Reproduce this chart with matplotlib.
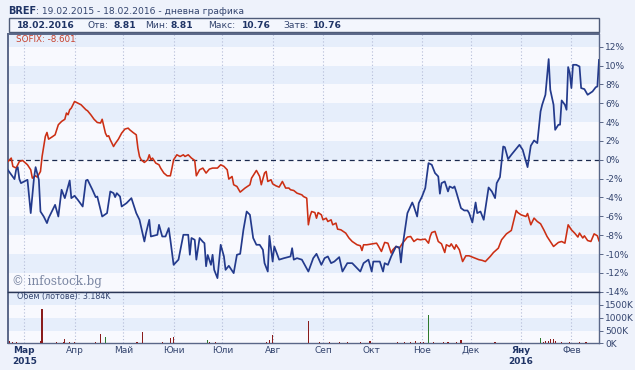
import numpy as np
import matplotlib
matplotlib.use('Agg')
import matplotlib.pyplot as plt
import matplotlib.patches as mpatches
import pandas as pd

# ---------------- data ----------------
start = pd.Timestamp('2015-02-19')
end = pd.Timestamp('2016-02-18')

bref_days = [0, 4, 5, 6, 7, 8, 12, 14, 16, 17, 19, 20, 22, 24, 25, 29, 31, 33, 35, 38,
             39, 41, 43, 46, 48, 49, 52, 54, 55, 58, 61, 63, 65, 66, 67, 69, 70, 73, 76, 79,
             81, 84, 85, 87, 88, 92, 93, 95, 97, 99, 100, 102, 105, 108, 111, 112, 113, 115, 116, 118,
             120, 121, 122, 123, 125, 126, 127, 129, 131, 133, 134, 136, 139, 141, 143, 145, 147, 149, 151, 153,
             155, 157, 158, 160, 161, 163, 164, 167, 170, 174, 175, 176, 178, 181, 185, 188, 190, 193, 195, 197,
             199, 201, 204, 206, 209, 212, 214, 217, 219, 222, 224, 225, 229, 231, 232, 234, 236, 239, 241, 242,
             243, 246, 249, 250, 252, 253, 255, 257, 259, 261, 263, 265, 266, 267, 269, 271, 272, 274, 275, 276,
             279, 281, 283, 284, 286, 288, 289, 291, 293, 296, 298, 300, 301, 303, 305, 306, 308, 310, 315, 317,
             319, 320, 322, 324, 326, 328, 329, 331, 332, 333, 334, 336, 337, 339, 340, 341, 343, 344, 345, 346,
             347, 348, 350, 352, 353, 355, 357, 360, 362, 363, 364]
bref_pct = [-1.1, -2.05, -1.06, -0.78, -2.05, -2.48, -2.12, -5.66, -1.95, -0.78, -2.12, -5.49, -6.02, -6.72, -6.19, -4.78, -6.02, -3.18, -4.07, -2.2,
            -4.07, -3.82, -4.25, -4.96, -2.2, -2.12, -3.18, -3.96, -3.9, -6.02, -5.66, -3.36, -3.54, -3.96, -3.54, -3.9, -4.96, -4.6, -4.07, -5.66,
            -6.37, -8.67, -7.78, -6.37, -8.14, -7.96, -6.9, -8.14, -8.14, -7.25, -8.49, -11.15, -10.6, -7.96, -7.96, -10.08, -8.3, -8.49, -10.6, -8.3,
            -8.7, -8.85, -11.3, -10.1, -11.15, -10.08, -11.68, -12.56, -9.02, -10.26, -11.68, -11.25, -12.03, -10.08, -9.98, -7.43, -5.49, -5.84, -8.3, -9.02,
            -9.02, -9.55, -10.97, -11.86, -8.07, -10.8, -9.2, -10.6, -10.44, -10.26, -9.38, -10.6, -10.44, -10.6, -11.86, -10.44, -9.98, -11.15, -10.44, -10.26,
            -10.97, -10.8, -10.33, -11.86, -10.97, -10.97, -11.33, -11.86, -10.97, -10.6, -11.86, -10.8, -10.8, -11.86, -10.97, -11.15, -10.26, -9.2, -9.3, -10.9,
            -9.2, -5.66, -4.53, -4.96, -6.02, -4.6, -3.9, -3.0, -0.35, -0.53, -1.41, -1.77, -3.6, -2.48, -2.3, -3.36, -2.83, -3.0, -2.83, -3.36,
            -5.13, -5.38, -5.38, -5.66, -6.65, -4.53, -5.66, -5.49, -6.37, -2.94, -3.36, -4.07, -2.48, -1.84, 1.41, 1.34, 0.07, 0.53, 1.59, 1.06,
            -0.18, -0.78, 1.49, 2.05, 1.77, 5.13, 5.84, 6.9, 8.84, 10.69, 7.43, 5.84, 3.18, 3.72, 3.72, 6.3, 5.84, 5.31, 9.84, 9.2,
            7.61, 10.08, 10.08, 9.9, 7.61, 7.5, 6.9, 7.25, 7.7, 7.78, 10.6]

sofix_days = [0, 2, 3, 5, 7, 9, 12, 14, 15, 17, 18, 20, 21, 23, 24, 25, 27, 29, 31, 33,
              35, 36, 37, 38, 39, 41, 43, 45, 47, 48, 49, 51, 53, 55, 57, 58, 60, 61, 62, 63,
              65, 66, 68, 70, 72, 74, 75, 77, 79, 80, 81, 82, 84, 86, 87, 88, 89, 91, 93, 94,
              96, 98, 100, 101, 102, 104, 106, 108, 109, 111, 113, 115, 116, 118, 120, 122, 124, 126, 129, 131,
              133, 135, 136, 138, 139, 141, 143, 146, 149, 150, 153, 155, 156, 158, 159, 160, 162, 163, 165, 167,
              169, 171, 173, 174, 176, 178, 179, 181, 182, 184, 185, 186, 187, 189, 190, 191, 193, 194, 196, 197,
              199, 200, 202, 203, 205, 208, 210, 212, 215, 217, 218, 219, 221, 225, 227, 228, 230, 232, 234, 236,
              237, 239, 241, 243, 246, 248, 250, 252, 254, 257, 259, 260, 261, 263, 265, 267, 269, 270, 272, 273,
              275, 276, 278, 280, 282, 284, 287, 290, 292, 294, 297, 299, 302, 304, 307, 310, 313, 314, 316, 319,
              320, 322, 324, 326, 328, 330, 332, 334, 336, 339, 341, 343, 345, 347, 349, 351, 352, 354, 355, 357,
              359, 361, 363, 364]
sofix_pct = [-0.17, 0.18, -0.7, -0.88, -0.18, -0.07, -0.53, -1.06, -1.95, -1.7, -1.84, -1.24, 0.35, 2.48, 2.9, 2.19, 2.41, 2.65, 3.72, 4.07,
             4.3, 4.96, 4.78, 5.31, 5.49, 6.19, 6.02, 5.84, 5.49, 5.31, 5.2, 4.78, 4.3, 3.96, 3.9, 4.3, 2.83, 2.48, 2.55, 2.12,
             1.41, 1.7, 2.19, 2.83, 3.26, 3.36, 3.18, 2.9, 2.65, 1.24, 0.35, 0.0, -0.28, 0.0, 0.53, 0.0, 0.18, -0.35, -0.53, -0.88,
             -1.41, -1.7, -1.7, -0.88, 0.0, 0.53, 0.35, 0.53, 0.35, 0.53, 0.18, -0.07, -1.7, -1.06, -0.88, -1.41, -0.99, -0.88, -0.88, -0.53,
             -0.7, -1.06, -2.05, -1.77, -2.65, -2.83, -3.43, -3.0, -2.65, -1.95, -1.13, -1.77, -2.65, -1.41, -1.24, -2.3, -2.12, -2.55, -2.76, -2.9,
             -2.3, -3.0, -3.0, -3.18, -3.26, -3.54, -3.6, -3.72, -3.9, -4.07, -6.9, -6.0, -5.49, -5.6, -6.2, -5.6, -5.84, -6.37, -6.2, -6.55,
             -6.37, -6.9, -6.72, -7.36, -7.43, -7.78, -8.3, -8.67, -9.02, -9.12, -9.63, -9.02, -9.02, -8.9, -8.85, -9.12, -9.73, -8.77, -8.85, -9.9,
             -9.55, -9.2, -9.38, -8.85, -8.2, -8.14, -8.67, -8.42, -8.49, -8.42, -8.85, -8.14, -7.72, -7.6, -8.67, -8.92, -9.84, -9.02, -9.2, -8.92,
             -9.48, -9.02, -9.55, -10.8, -10.19, -10.19, -10.4, -10.6, -10.67, -10.8, -10.26, -9.84, -9.38, -8.49, -7.86, -7.5, -5.38, -5.6, -5.84, -6.02,
             -5.7, -6.9, -6.19, -6.55, -6.79, -7.43, -8.14, -8.67, -9.2, -8.77, -8.67, -8.85, -6.9, -7.43, -7.78, -8.2, -7.78, -8.3, -8.07, -8.57,
             -8.67, -7.86, -8.07, -8.6]

vol_days = [1, 3, 5, 9, 20, 21, 30, 34, 35, 38, 41, 49, 54, 57, 60, 70, 79, 80, 83, 86,
            95, 100, 102, 112, 123, 124, 128, 135, 159, 161, 163, 172, 185, 192, 198, 204, 209, 217, 223, 231,
            240, 244, 248, 251, 254, 256, 259, 262, 268, 271, 276, 279, 284, 300, 303, 319, 323, 328, 330, 331,
            333, 334, 336, 337, 341, 346, 352, 356]
vol_k = [90, 60, 40, 30, 80, 1340, 40, 50, 156, 40, 40, 30, 40, 350, 230, 30, 50, 50, 450, 30,
         70, 190, 260, 20, 110, 40, 40, 30, 60, 130, 325, 30, 870, 60, 40, 40, 50, 40, 80, 30,
         50, 40, 50, 80, 50, 60, 1105, 40, 60, 50, 50, 110, 30, 40, 30, 30, 30, 220, 60, 80,
         100, 180, 180, 80, 50, 50, 60, 50]
vol_dir = ['d', 'd', 'd', 'd', 'd', 'd', 'd', 'd', 'd', 'd', 'd', 'd', 'd', 'd', 'u', 'd', 'd', 'd', 'd', 'd',
           'd', 'd', 'd', 'd', 'u', 'd', 'd', 'd', 'd', 'd', 'd', 'd', 'd', 'd', 'd', 'd', 'd', 'd', 'd', 'd',
           'd', 'd', 'd', 'd', 'd', 'd', 'u', 'd', 'd', 'd', 'd', 'd', 'd', 'd', 'd', 'd', 'd', 'u', 'd', 'd',
           'd', 'd', 'd', 'd', 'd', 'd', 'd', 'd']

month_starts = ['2015-03-01', '2015-04-01', '2015-05-01', '2015-06-01', '2015-07-01', '2015-08-01',
                '2015-09-01', '2015-10-01', '2015-11-01', '2015-12-01', '2016-01-01', '2016-02-01']
month_labels = ['Мар', 'Апр', 'Май', 'Юни', 'Юли', 'Авг', 'Сеп', 'Окт', 'Ное', 'Дек', 'Яну', 'Фев']
year_labels = {0: '2015', 10: '2016'}
pct_ticks = list(range(12, -16, -2))
vol_ticks = [0, 500, 1000, 1500]

# ---------------- style ----------------
W, H = 635, 370
BG = '#eef2fb'
BAND_A = '#e6eefb'
BAND_B = '#f8f9fe'
NAVY = '#1f3466'
TXT = '#33446e'
BLUE = '#233a8c'
RED = '#cc2f14'
GRID = '#b4bcd8'


def fx(px):
    return px / W


def fy(py):
    return 1 - py / H


fig = plt.figure(figsize=(W / 100, H / 100), dpi=100, facecolor=BG)

ax = fig.add_axes([fx(8), fy(291.7), fx(599) - fx(8), fy(34) - fy(291.7)])
axv = fig.add_axes([fx(8), fy(343.3), fx(599) - fx(8), fy(291.7) - fy(343.3)])

days_max = (end - start).days
month_days = [(pd.Timestamp(m) - start).days for m in month_starts]

# main panel
ymin, ymax = -14, 13.35
ax.set_xlim(0, days_max)
ax.set_ylim(ymin, ymax)
ax.set_facecolor(BAND_B)
for lo in range(-14, 14, 2):
    if (lo // 2) % 2 == 0:
        ax.axhspan(lo, lo + 2, color=BAND_A, lw=0, zorder=0)
for d in month_days:
    ax.axvline(d, color=GRID, lw=0.8, ls=(0, (1, 2)), zorder=1)
ax.axhline(0, color='#1c2a4e', lw=0.9, ls=(0, (4, 3)), zorder=2)

ax.plot(sofix_days, sofix_pct, color=RED, lw=1.15, zorder=3)
ax.plot(bref_days, bref_pct, color=BLUE, lw=1.25, zorder=4)

ax.yaxis.tick_right()
ax.set_yticks(pct_ticks)
ax.set_yticklabels([f'{t}%' for t in pct_ticks])
ax.tick_params(axis='y', direction='out', length=3, width=0.7, color='#5a6788',
               labelsize=6.5, labelcolor=TXT, pad=1.5)
ax.set_xticks([])
for s in ['left', 'top', 'right', 'bottom']:
    ax.spines[s].set_color('#5a6788')
    ax.spines[s].set_linewidth(1.0)
ax.spines['top'].set_linewidth(1.4)
ax.spines['left'].set_linewidth(1.4)
ax.spines['bottom'].set_color('#2a3656')

ax.text(fx(17) / 1, 0, '', transform=fig.transFigure)
fig.text(fx(16.5), fy(40), 'SOFIX: -8.601', color='#c8402c', fontsize=6.3,
         va='center', ha='left')
fig.text(fx(12), fy(281.5), '© infostock.bg', color='#7b87a3', fontsize=8.6,
         family='DejaVu Serif', va='center', ha='left')

# volume panel
vmax = 2016
axv.set_xlim(0, days_max)
axv.set_ylim(0, vmax)
axv.set_facecolor(BAND_B)
for lo in range(0, 2500, 500):
    if (lo // 500) % 2 == 1:
        axv.axhspan(lo, lo + 500, color=BAND_A, lw=0, zorder=0)
axv.axhspan(1500, vmax, color=BAND_A, lw=0, zorder=0)
for d in month_days:
    axv.axvline(d, color=GRID, lw=0.8, ls=(0, (1, 2)), zorder=1)
vcols = ['#2d7a2d' if c == 'u' else '#8a1c1c' for c in vol_dir]
axv.bar(vol_days, vol_k, width=0.75, color=vcols, lw=0, zorder=3)
axv.yaxis.tick_right()
axv.set_yticks(vol_ticks)
axv.set_yticklabels([f'{t}K' for t in vol_ticks])
axv.tick_params(axis='y', direction='out', length=3, width=0.7, color='#5a6788',
                labelsize=6.5, labelcolor=TXT, pad=1.5)
axv.set_xticks(month_days)
axv.set_xticklabels([])
axv.tick_params(axis='x', length=0)
for s in ['left', 'top', 'right', 'bottom']:
    axv.spines[s].set_color('#5a6788')
    axv.spines[s].set_linewidth(1.0)
axv.spines['left'].set_linewidth(1.4)
axv.spines['top'].set_color('#2a3656')
fig.text(fx(17), fy(297), 'Обем (лотове): 3.184K', color=TXT, fontsize=5.8,
         va='center', ha='left')

# month labels
for i, (d, lab) in enumerate(zip(month_days, month_labels)):
    xpix = 8 + d / days_max * 591
    bold = i in year_labels
    fig.text(fx(xpix), fy(350.5), lab, ha='center', va='center', fontsize=6.5,
             color=NAVY if bold else TXT, fontweight='bold' if bold else 'normal')
    if bold:
        fig.text(fx(xpix), fy(362), year_labels[i], ha='center', va='center',
                 fontsize=6.5, color=NAVY, fontweight='bold')

# header
fig.text(fx(8), fy(11), 'BREF', color=NAVY, fontsize=7, fontweight='bold',
         va='center', ha='left')
fig.text(fx(36), fy(11), ': 19.02.2015 - 18.02.2016 - дневна графика', color=TXT,
         fontsize=6.6, va='center', ha='left')

box = mpatches.Rectangle((fx(9), fy(31.7)), fx(599) - fx(9), fy(18.3) - fy(31.7),
                         transform=fig.transFigure, facecolor='#f3f6fd',
                         edgecolor='#4e5b78', lw=1.0)
fig.patches.append(box)
info = [(17, '18.02.2016', True), (87, 'Отв:', False), (113, '8.81', True),
        (145, 'Мин:', False), (170, '8.81', True), (208, 'Макс:', False),
        (242, '10.76', True), (283, 'Затв:', False), (313, '10.76', True)]
for xp, t, b in info:
    fig.text(fx(xp), fy(25), t, color=NAVY if b else TXT, fontsize=6.6,
             fontweight='bold' if b else 'normal', va='center', ha='left')

fig.savefig('out.png', dpi=100, facecolor=BG)
